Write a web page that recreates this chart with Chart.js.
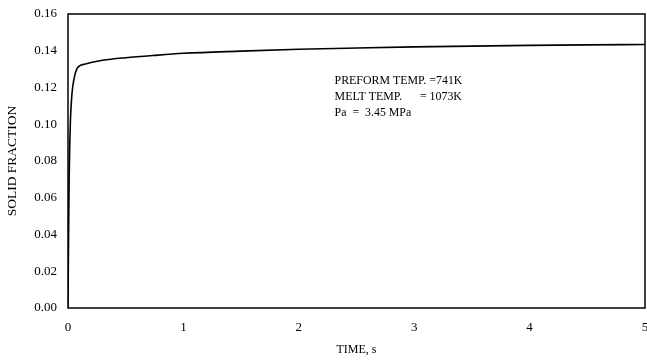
<!DOCTYPE html>
<html>
<head>
<meta charset="utf-8">
<script src="https://cdn.jsdelivr.net/npm/chart.js@4"></script>
<style>
  body { margin: 0; background: #fff; }
  canvas { display: block; }
</style>
</head>
<body>
<canvas id="solidChart" width="647" height="364"></canvas>
<script>
// time (s) and solid fraction
const times = [0, 0.005, 0.01, 0.02, 0.03, 0.04, 0.06, 0.08, 0.1, 0.15, 0.2, 0.3, 0.5, 0.75, 1, 1.5, 2, 2.5, 3, 3.5, 4, 4.5, 5];
const solidFraction = [0, 0.04, 0.07, 0.1, 0.113, 0.12, 0.127, 0.1305, 0.1318, 0.1328, 0.1336, 0.1348, 0.1362, 0.1375, 0.1386, 0.1398, 0.1408, 0.1415, 0.1421, 0.1425, 0.1429, 0.1432, 0.1434];

const xTicks = [0, 1, 2, 3, 4, 5];
const yTicks = [0, 0.02, 0.04, 0.06, 0.08, 0.10, 0.12, 0.14, 0.16];

// annotation lines inside the plot
const noteLines = ["PREFORM TEMP. =741K", "MELT TEMP.      = 1073K", "Pa  =  3.45 MPa"];

const serif = "'Liberation Serif', 'DejaVu Serif', serif";

// draws the box round the plot and the note text
const framePlugin = {
  id: "frame",
  afterDraw(chart) {
    const ctx = chart.ctx;
    const a = chart.chartArea;
    ctx.save();
    ctx.strokeStyle = "#000";
    ctx.lineWidth = 1.5;
    ctx.strokeRect(a.left, a.top, a.right - a.left, a.bottom - a.top);
    ctx.fillStyle = "#000";
    ctx.font = "13.5px " + serif;
    ctx.textBaseline = "middle";
    const x = chart.scales.x.getPixelForValue(2.31);
    let y = chart.scales.y.getPixelForValue(0.1236);
    // the note in the scan is a narrow face, so squeeze it a bit
    ctx.translate(x, 0);
    ctx.scale(0.88, 1);
    noteLines.forEach((line) => {
      ctx.fillText(line, 0, y);
      y += 16;
    });
    ctx.restore();
  },
};

const chart = new Chart(document.getElementById("solidChart"), {
  type: "line",
  data: {
    datasets: [
      {
        data: times.map((t, i) => ({ x: t, y: solidFraction[i] })),
        borderColor: "#000",
        borderWidth: 1.6,
        pointRadius: 0,
        cubicInterpolationMode: "monotone",
        fill: false,
      },
    ],
  },
  options: {
    responsive: false,
    animation: false,
    layout: { padding: { top: 14, right: 2, left: 0, bottom: 0 } },
    plugins: { legend: { display: false }, tooltip: { enabled: false } },
    scales: {
      x: {
        type: "linear",
        min: 0,
        max: 5,
        afterBuildTicks: (scale) => {
          scale.ticks = xTicks.map((v) => ({ value: v }));
        },
        afterFit: (scale) => {
          scale.height = 56;
          scale.paddingRight = 0;
          scale.paddingLeft = 0;
        },
        grid: { display: false, drawTicks: false },
        border: { display: false },
        ticks: {
          color: "#000",
          padding: 12,
          font: { family: serif, size: 13 },
        },
        title: {
          display: true,
          text: "TIME, s",
          color: "#000",
          font: { family: serif, size: 12 },
          padding: { top: 6, bottom: 7 },
        },
      },
      y: {
        min: 0,
        max: 0.16,
        afterBuildTicks: (scale) => {
          scale.ticks = yTicks.map((v) => ({ value: v }));
        },
        afterFit: (scale) => {
          scale.width = 68;
          scale.paddingTop = 0;
          scale.paddingBottom = 0;
        },
        grid: { display: false, drawTicks: false },
        border: { display: false },
        ticks: {
          color: "#000",
          padding: 11,
          font: { family: serif, size: 13 },
          callback: (v) => v.toFixed(2),
        },
        title: {
          display: true,
          text: "SOLID FRACTION",
          color: "#000",
          font: { family: serif, size: 13.5 },
          padding: { top: 4, bottom: 6 },
        },
      },
    },
  },
  plugins: [framePlugin],
});
</script>
</body>
</html>
